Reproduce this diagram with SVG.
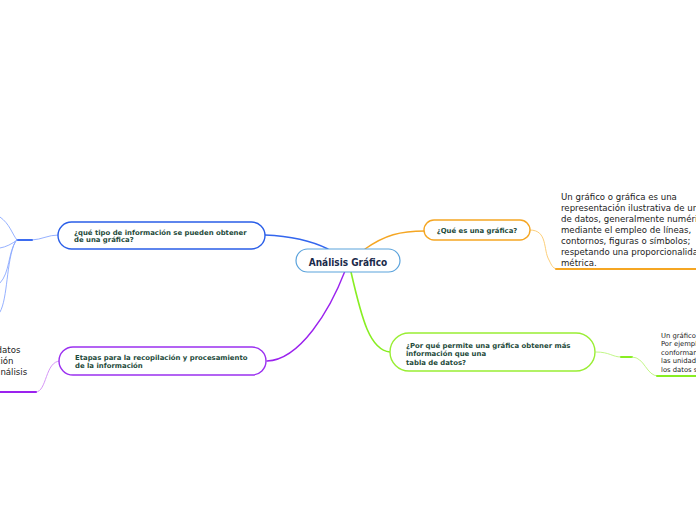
<svg xmlns="http://www.w3.org/2000/svg" width="696" height="520" viewBox="0 0 696 520">
<style>
text{font-family:"DejaVu Sans","Liberation Sans",sans-serif;}
.nt{font-size:6.9px;font-weight:bold;fill:#1d4a3a;}
.ct{font-family:"DejaVu Sans Condensed","Liberation Sans",sans-serif;font-size:10px;font-weight:bold;fill:#1a2a4a;}
.bt{font-size:8.6px;fill:#222;}
.st{font-size:6.8px;fill:#222;}
.box{fill:#fff;}
.c{fill:none;stroke-linecap:round;}
</style>
<rect width="696" height="520" fill="#fff"/>
<g id="connectors">
<path class="c" d="M265,235 C290,236 310,240 328,249" stroke="#3366ee" stroke-width="1.4"/>
<path class="c" d="M365,249 C385,235 400,231 425,231" stroke="#f5a623" stroke-width="1.4"/>
<path class="c" d="M351,272 C362,320 370,350 390,352" stroke="#88ee22" stroke-width="1.6"/>
<path class="c" d="M345,271 C330,310 300,360 267,361" stroke="#9b22ee" stroke-width="1.4"/>
<path class="c" d="M530,230 C548,230 543,250 549,260 C552,266 553,269 558,269" stroke="#fcc86a" stroke-width="0.9"/>
<path class="c" d="M556,269 L696,269" stroke="#f5a623" stroke-width="2"/>
<path class="c" d="M596,352 C610,352 612,357 621,357" stroke="#bbf57a" stroke-width="0.9"/>
<path class="c" d="M621,357 L632,357" stroke="#88ee22" stroke-width="2"/>
<path class="c" d="M632,357 C645,357 646,376 658,376" stroke="#bbf57a" stroke-width="0.9"/>
<path class="c" d="M657,376 L696,376" stroke="#88ee22" stroke-width="2"/>
<path class="c" d="M60,361 C45,361 47,392 36,392" stroke="#d08af5" stroke-width="0.9"/>
<path class="c" d="M36,392 L0,392" stroke="#9b22ee" stroke-width="2"/>
<path class="c" d="M58,235 C48,235 42,239.5 32,240" stroke="#8aa8ff" stroke-width="0.9"/>
<path class="c" d="M32,240 L17,240" stroke="#3d6cf0" stroke-width="2"/>
<path class="c" d="M17,240 C12,234 10,224 0,217" stroke="#8aa8ff" stroke-width="0.9"/>
<path class="c" d="M17,240 C12,244 6,247 0,248" stroke="#8aa8ff" stroke-width="0.9"/>
<path class="c" d="M16,241 C8,252 10,273 0,283" stroke="#8aa8ff" stroke-width="0.9"/>
<path class="c" d="M15,242 C6,262 8,298 0,312" stroke="#8aa8ff" stroke-width="0.9"/>
</g>
<g id="central">
<rect class="box" x="296" y="249" width="104" height="23" rx="11.5" stroke="#5ba3dc" stroke-width="1.2"/>
<text class="ct" x="348" y="265.5" text-anchor="middle">Análisis Gráfico</text>
</g>
<g id="n-tipo">
<rect class="box" x="58" y="222" width="207" height="27" rx="13.5" stroke="#2a5ee8" stroke-width="1.4"/>
<text class="nt" x="74" y="234.5">¿qué tipo de información se pueden obtener</text>
<text class="nt" x="74" y="242">de una gráfica?</text>
</g>
<g id="n-que">
<rect class="box" x="424" y="220" width="106" height="20" rx="10" stroke="#f5a623" stroke-width="1.4"/>
<text class="nt" x="477" y="233" text-anchor="middle">¿Qué es una gráfica?</text>
</g>
<g id="n-por">
<rect class="box" x="390" y="333" width="205" height="38" rx="19" stroke="#99ee33" stroke-width="1.4"/>
<text class="nt" x="406" y="347.5">¿Por qué permite una gráfica obtener más</text>
<text class="nt" x="406" y="355.5">información que una</text>
<text class="nt" x="406" y="364.5">tabla de datos?</text>
</g>
<g id="n-etapas">
<rect class="box" x="59" y="347" width="207" height="28" rx="14" stroke="#9b30f0" stroke-width="1.4"/>
<text class="nt" x="75" y="359.5">Etapas para la recopilación y procesamiento</text>
<text class="nt" x="75" y="368">de la información</text>
</g>
<g id="t-que">
<text class="bt" x="561" y="200">Un gráfico o gráfica es una</text>
<text class="bt" x="561" y="211">representación ilustrativa de un</text>
<text class="bt" x="561" y="222">de datos, generalmente numérico</text>
<text class="bt" x="561" y="233">mediante el empleo de líneas,</text>
<text class="bt" x="561" y="244">contornos, figuras o símbolos;</text>
<text class="bt" x="561" y="255">respetando una proporcionalidad</text>
<text class="bt" x="561" y="266">métrica.</text>
</g>
<g id="t-por">
<text class="st" x="661" y="337.5">Un gráfico</text>
<text class="st" x="661" y="346">Por ejemplo</text>
<text class="st" x="661" y="354.5">conformando</text>
<text class="st" x="661" y="363">las unidades</text>
<text class="st" x="661" y="371.5">los datos se</text>
</g>
<g id="t-etapas">
<text class="bt" x="-3.4" y="353">datos</text>
<text class="bt" x="-4.3" y="364">ción</text>
<text class="bt" x="-4.9" y="375">análisis</text>
</g>
</svg>
